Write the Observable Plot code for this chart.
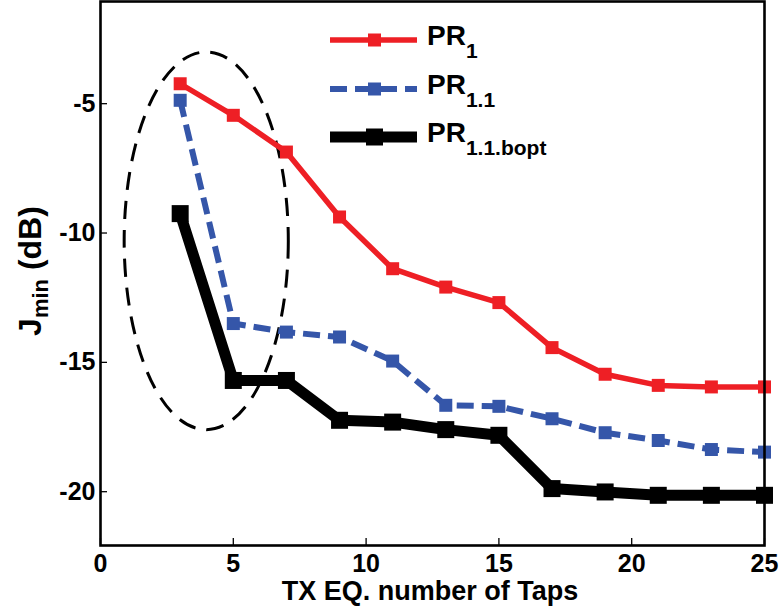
<!DOCTYPE html>
<html>
<head>
<meta charset="utf-8">
<script src="https://cdn.jsdelivr.net/npm/d3@7"></script>
<script src="https://cdn.jsdelivr.net/npm/@observablehq/plot@0.6"></script>
<style>
  html, body { margin: 0; padding: 0; background: #fff; }
  #chart { position: relative; width: 781px; height: 609px; overflow: hidden; }
</style>
</head>
<body>
<div id="chart"></div>
<script>
// ---- data ----
const taps = [3, 5, 7, 9, 11, 13, 15, 17, 19, 21, 23, 25];
const pr1 = [-4.23, -5.45, -6.87, -9.38, -11.38, -12.09, -12.69, -14.43, -15.46, -15.89, -15.95, -15.95];
const pr11 = [-4.87, -13.5, -13.83, -14.02, -14.95, -16.66, -16.70, -17.18, -17.72, -18.02, -18.37, -18.47];
const pr11bopt = [-9.25, -15.7, -15.7, -17.24, -17.31, -17.6, -17.82, -19.88, -20.01, -20.14, -20.14, -20.14];
const seriesNames = ["PR1", "PR1.1", "PR1.1.bopt"];
const seriesBase = ["PR", "PR", "PR"];
const seriesSub = ["1", "1.1", "1.1.bopt"];
const xTicks = [0, 5, 10, 15, 20, 25];
const yTicks = [-5, -10, -15, -20];
const xDomain = [0, 25];
const yDomain = [-22.08, -1.05];
const xLabel = "TX EQ. number of Taps";
const yLabelMain = "J";
const yLabelSub = "min";
const yLabelUnit = " (dB)";
// annotation ellipse (data units): center and radii
const ellipseCenter = [4.0, -10.32];
const ellipseRadii = [3.09, 7.3];

// ---- styles ----
const W = 781, H = 609;
const mL = 100, mR = 17, mT = 1, mB = 64;
const plotH = H - mT - mB, plotW = W - mL - mR;
const colors = ["#ee1f25", "#3556a9", "#000000"];
const widths = [5.5, 6, 11];
const dashes = [null, "17,8", null];
const squareSide = [13, 13, 17];

const rows = [];
const allSeries = [pr1, pr11, pr11bopt];
seriesNames.forEach((name, i) => {
  taps.forEach((t, j) => rows.push({series: name, idx: i, x: t, y: allSeries[i][j]}));
});

const marks = [];
// ellipse annotation
marks.push((index, scales) => {
  const [cx, cy] = ellipseCenter;
  const e = d3.create("svg:ellipse")
    .attr("cx", scales.x(cx))
    .attr("cy", scales.y(cy))
    .attr("rx", Math.abs(scales.x(cx + ellipseRadii[0]) - scales.x(cx)))
    .attr("ry", Math.abs(scales.y(cy + ellipseRadii[1]) - scales.y(cy)))
    .attr("fill", "none")
    .attr("stroke", "black")
    .attr("stroke-width", 3)
    .attr("stroke-dasharray", "18,11");
  return e.node();
});
seriesNames.forEach((name, i) => {
  const d = rows.filter(r => r.idx === i);
  marks.push(Plot.line(d, {x: "x", y: "y", stroke: colors[i], strokeWidth: widths[i],
    strokeDasharray: dashes[i], strokeLinejoin: "miter", strokeLinecap: "butt"}));
  marks.push(Plot.dot(d, {x: "x", y: "y", symbol: "square", fill: colors[i], stroke: "none",
    r: squareSide[i] / Math.sqrt(Math.PI)}));
});
// inward ticks
marks.push(Plot.tickX(xTicks, {x: d => d, stroke: "black", strokeWidth: 1.3, insetTop: plotH - 7}));
marks.push(Plot.tickY(yTicks, {y: d => d, stroke: "black", strokeWidth: 1.3, insetRight: plotW - 7}));
marks.push(Plot.frame({stroke: "black", strokeWidth: 2.6}));
marks.push(Plot.axisX(xTicks, {tickSize: 0, tickPadding: 9, tickFormat: d => String(d), label: null,
  fontSize: 25, fontWeight: "bold"}));
marks.push(Plot.axisY(yTicks, {tickSize: 0, tickPadding: 5, tickFormat: d => String(d), label: null,
  fontSize: 25, fontWeight: "bold"}));

const svg = Plot.plot({
  width: W, height: H,
  marginLeft: mL, marginRight: mR, marginTop: mT, marginBottom: mB,
  x: {domain: xDomain},
  y: {domain: yDomain},
  style: {fontFamily: "'Liberation Sans', Arial, Helvetica, sans-serif", color: "black", background: "white", overflow: "visible"},
  marks
});

const s = d3.select(svg);
// x label
s.append("text")
  .attr("x", 430).attr("y", 600)
  .attr("text-anchor", "middle")
  .attr("font-size", 27).attr("font-weight", "bold").attr("fill", "black")
  .text(xLabel);
// y label
const yl = s.append("text")
  .attr("transform", "translate(41,271) rotate(-90)")
  .attr("text-anchor", "middle")
  .attr("font-size", 32).attr("font-weight", "bold").attr("fill", "black");
yl.append("tspan").text(yLabelMain);
yl.append("tspan").attr("font-size", 22).attr("dy", 7).text(yLabelSub);
yl.append("tspan").attr("dy", -7).text(yLabelUnit);

// legend
const legX0 = 330, legX1 = 417, legTextX = 427;
const legY = [40, 89, 137];
const g = s.append("g");
seriesNames.forEach((name, i) => {
  g.append("line").attr("x1", legX0).attr("x2", legX1).attr("y1", legY[i]).attr("y2", legY[i])
    .attr("stroke", colors[i]).attr("stroke-width", widths[i])
    .attr("stroke-dasharray", dashes[i]);
  const sz = squareSide[i];
  g.append("rect").attr("x", (legX0 + legX1) / 2 + 1 - sz / 2).attr("y", legY[i] - sz / 2)
    .attr("width", sz).attr("height", sz).attr("fill", colors[i]);
  const t = g.append("text").attr("x", legTextX).attr("y", legY[i] + 5)
    .attr("text-anchor", "start")
    .attr("font-size", 28).attr("font-weight", "bold").attr("fill", "black");
  t.append("tspan").text(seriesBase[i]);
  t.append("tspan").attr("font-size", 21).attr("dy", 13).text(seriesSub[i]);
});

document.getElementById("chart").appendChild(svg);
</script>
</body>
</html>
